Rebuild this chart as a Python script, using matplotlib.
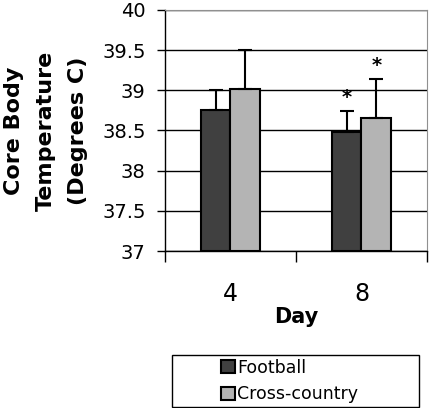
import numpy as np
import matplotlib.pyplot as plt
from matplotlib.patches import Rectangle

plt.rcParams['font.family'] = ['DejaVu Sans']

days = ['4', '8']
football = [38.75, 38.48]
football_err = [0.26, 0.26]
cross = [39.02, 38.66]
cross_err = [0.48, 0.48]
marks = ['', '*']

fig = plt.figure(figsize=(4.3, 4.08), dpi=100)
ax = fig.add_axes([0.3837, 0.3848, 0.6093, 0.5907])

x = np.arange(len(days))
w = 0.225
ax.bar(x - w / 2, np.array(football) - 37, w, bottom=37, color='#404040',
       edgecolor='black', linewidth=1.5, label='Football', zorder=3,
       yerr=[np.zeros(2), football_err], capsize=5,
       error_kw=dict(elinewidth=1.5, capthick=1.5, ecolor='black', zorder=4))
ax.bar(x + w / 2, np.array(cross) - 37, w, bottom=37, color='#b4b4b4',
       edgecolor='black', linewidth=1.5, label='Cross-country', zorder=3,
       yerr=[np.zeros(2), cross_err], capsize=5,
       error_kw=dict(elinewidth=1.5, capthick=1.5, ecolor='black', zorder=4))

# significance marks above error bars
for i, m in enumerate(marks):
    if m:
        ax.text(x[i] - w / 2, football[i] + football_err[i] + 0.05, m,
                ha='center', va='bottom', fontsize=14, fontweight='bold')
        ax.text(x[i] + w / 2, cross[i] + cross_err[i] + 0.05, m,
                ha='center', va='bottom', fontsize=14, fontweight='bold')

ax.set_ylim(37, 40)
ax.set_xlim(-0.5, 1.5)
ax.set_yticks(np.arange(37, 40.01, 0.5))
ax.set_yticklabels(['37', '37.5', '38', '38.5', '39', '39.5', '40'], fontsize=14)
ax.yaxis.grid(True, color='black', linewidth=1)
ax.set_axisbelow(True)

ax.set_xticks([-0.5, 0.5, 1.5])
ax.set_xticklabels([])
ax.set_xticks(x, minor=True)
ax.set_xticklabels(days, minor=True, fontsize=17)
ax.tick_params(axis='x', which='major', direction='out', length=8, width=1)
ax.tick_params(axis='x', which='minor', length=0, pad=22)
ax.tick_params(axis='y', direction='out', length=6, width=1, pad=8)

for s in ['top', 'right']:
    ax.spines[s].set_color('#909090')
for s in ['left', 'bottom']:
    ax.spines[s].set_color('black')
    ax.spines[s].set_linewidth(1)

ax.set_xlabel('Day', fontsize=15, fontweight='bold', labelpad=1)
ax.set_ylabel('Core Body\nTemperature\n(Degrees C)', fontsize=16,
              fontweight='bold', labelpad=10, linespacing=1.75)

# legend box
fig.patches.append(Rectangle((172 / 430, 1 - 407 / 408), 247 / 430, 52 / 408,
                             transform=fig.transFigure, fill=False,
                             edgecolor='black', linewidth=1))
fig.legend(loc='center left', bbox_to_anchor=(212 / 430, 1 - 381 / 408),
           frameon=False, fontsize=12.5, handlelength=0.8, handleheight=0.8,
           handletextpad=0.15, labelspacing=0.5, borderpad=0)

fig.savefig('out.png', dpi=100)
